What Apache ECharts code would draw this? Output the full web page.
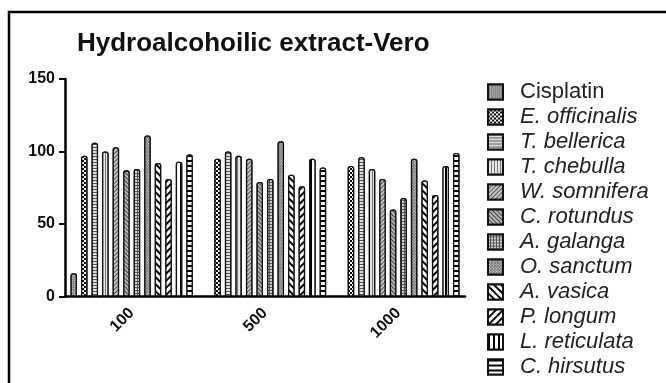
<!DOCTYPE html>
<html><head><meta charset="utf-8">
<script src="https://cdn.jsdelivr.net/npm/echarts@6/dist/echarts.min.js"></script>
<style>html,body{margin:0;padding:0;background:#fff}#c{width:666px;height:383px}</style>
</head><body><div id="c"></div>
<script>
const categories = ['100', '500', '1000'];
const seriesNames = ['Cisplatin','E. officinalis','T. bellerica','T. chebulla','W. somnifera','C. rotundus','A. galanga','O. sanctum','A. vasica','P. longum','L. reticulata','C. hirsutus'];
const cisplatin     = [16, null, null];
const eOfficinalis  = [97, 95, 90];
const tBellerica    = [106, 100, 96];
const tChebulla     = [100, 97, 88];
const wSomnifera    = [103, 95, 81];
const cRotundus     = [87, 79, 60];
const aGalanga      = [88, 81, 68];
const oSanctum      = [111, 107, 95];
const aVasica       = [92, 84, 80];
const pLongum       = [81, 76, 70];
const lReticulata   = [93, 95, 90];
const cHirsutus     = [98, 89, 99];
const yTicks = [0, 50, 100, 150];

const values = [cisplatin,eOfficinalis,tBellerica,tChebulla,wSomnifera,cRotundus,aGalanga,oSanctum,aVasica,pLongum,lReticulata,cHirsutus];
const D = Math.PI/4;
const styles = [
  {color:'#9a9a9a', decal:{symbol:'rect',symbolSize:1,color:'#b5b5b5',backgroundColor:'#8a8a8a',dashArrayX:[1,1],dashArrayY:[1,1]}},
  {color:'#fff', decal:{symbol:'rect',symbolSize:1,color:'#000',backgroundColor:'#fff',dashArrayX:[[2,2],[0,2,2,0]],dashArrayY:[2,0]}},
  {color:'#ddd', decal:{symbol:'rect',symbolSize:1,color:'#555',backgroundColor:'#e0e0e0',dashArrayX:[1,0],dashArrayY:[1,2]}},
  {color:'#ddd', decal:{symbol:'rect',symbolSize:1,color:'#777',backgroundColor:'#e6e6e6',dashArrayX:[1,2],dashArrayY:[1,0]}},
  {color:'#bbb', decal:{symbol:'rect',symbolSize:1,color:'#555',backgroundColor:'#c8c8c8',dashArrayX:[1,0],dashArrayY:[1,2],rotation:-D}},
  {color:'#aaa', decal:{symbol:'rect',symbolSize:1,color:'#444',backgroundColor:'#b5b5b5',dashArrayX:[1,0],dashArrayY:[1,2],rotation:D}},
  {color:'#777', decal:{symbol:'rect',symbolSize:1,color:'#d0d0d0',backgroundColor:'#555',dashArrayX:[2,1],dashArrayY:[2,1]}},
  {color:'#999', decal:{symbol:'rect',symbolSize:1,color:'#e0e0e0',backgroundColor:'#7a7a7a',dashArrayX:[1,1],dashArrayY:[1,1],rotation:D}},
  {color:'#fff', decal:{symbol:'rect',symbolSize:1,color:'#000',backgroundColor:'#fff',dashArrayX:[1,0],dashArrayY:[1.5,3],rotation:D}},
  {color:'#fff', decal:{symbol:'rect',symbolSize:1,color:'#000',backgroundColor:'#fff',dashArrayX:[1,0],dashArrayY:[1.5,3],rotation:-D}},
  {color:'#fff', decal:{symbol:'rect',symbolSize:1,color:'#000',backgroundColor:'#fff',dashArrayX:[1.5,3],dashArrayY:[1,0]}},
  {color:'#fff', decal:{symbol:'rect',symbolSize:1,color:'#000',backgroundColor:'#fff',dashArrayX:[1,0],dashArrayY:[1.5,3]}}
];

const chart = echarts.init(document.getElementById('c'), null, {renderer:'canvas'});
const font = '"Liberation Sans", Arial, sans-serif';
chart.setOption({
  animation:false,
  backgroundColor:'#fff',
  title:{text:'Hydroalcohoilic extract-Vero', left:77, top:31, padding:0,
    textStyle:{fontFamily:font, fontWeight:'bold', fontSize:26, color:'#111'}},
  graphic:[{type:'rect', shape:{x:9, y:12, width:700, height:420}, style:{fill:null, stroke:'#000', lineWidth:2.5}, silent:true}],
  grid:{left:65, right:201, top:79, bottom:86.5},
  legend:{
    orient:'vertical', left:487, top:81, padding:0, itemWidth:15, itemHeight:15, itemGap:3, icon:'rect',
    textStyle:{fontFamily:font, fontSize:22, color:'#222', padding:[0,0,0,12]},
    data: seriesNames.map((n,i)=>({name:n, textStyle:{fontStyle: i===0?'normal':'italic'}}))
  },
  xAxis:{type:'category', data:categories,
    axisLine:{lineStyle:{color:'#000', width:2.5}},
    axisTick:{alignWithLabel:true, length:5, lineStyle:{color:'#000', width:2}},
    axisLabel:{rotate:45, margin:14, fontFamily:font, fontWeight:'bold', fontSize:16, color:'#111'}},
  yAxis:{type:'value', min:0, max:150, interval:50,
    splitLine:{show:false},
    axisLine:{show:true, lineStyle:{color:'#000', width:2.5}},
    axisTick:{show:true, length:6, lineStyle:{color:'#000', width:2}},
    axisLabel:{margin:10, fontFamily:font, fontWeight:'bold', fontSize:16, color:'#111',
      formatter:v=> yTicks.includes(v)? String(v):''}},
  series: seriesNames.map((n,i)=>({
    name:n, type:'bar', data:values[i], barWidth:6.5, barGap:'62%',
    itemStyle:{color:styles[i].color, decal:styles[i].decal, borderColor:'#111', borderWidth:1.3, borderRadius:[2,2,0,0]}
  }))
});
</script></body></html>
